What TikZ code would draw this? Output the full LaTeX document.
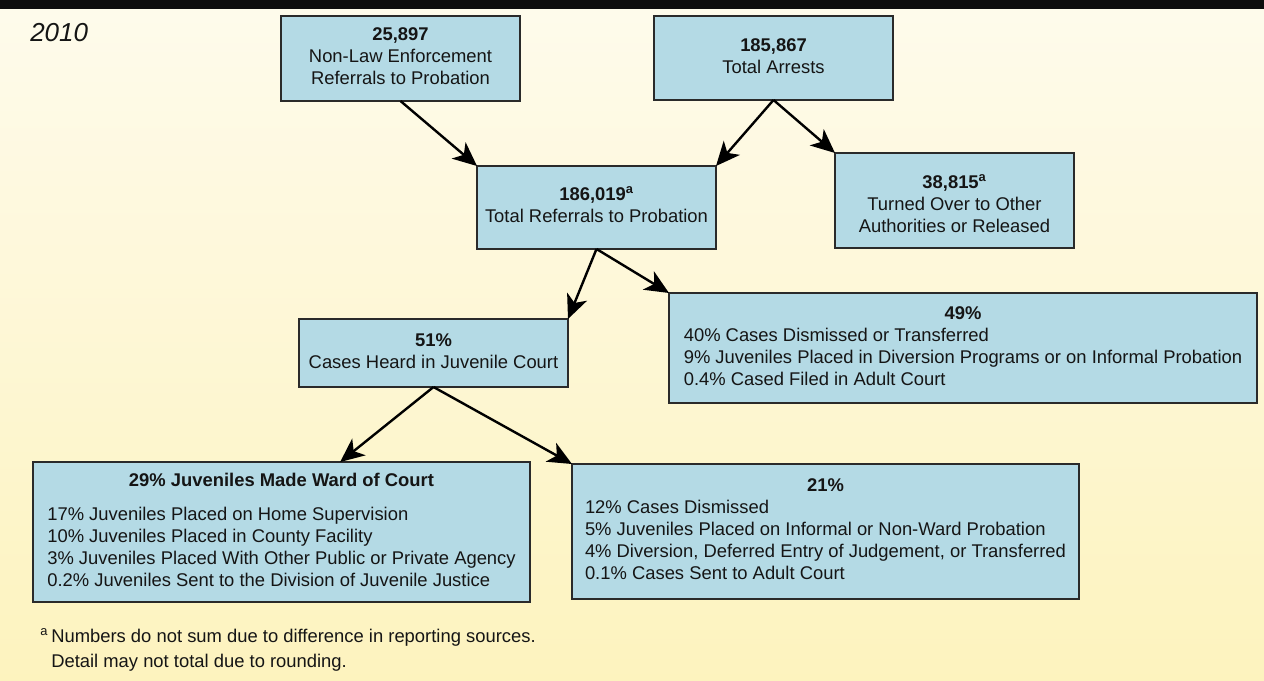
\documentclass[tikz,border=0pt]{standalone}
\usepackage{fontspec}
\setmainfont{Liberation Sans}
\usetikzlibrary{arrows.meta,calc}
\definecolor{bgtop}{HTML}{FEFBEC}
\definecolor{bgbot}{HTML}{FDF3BE}
\definecolor{boxfill}{HTML}{B4DAE5}
\definecolor{boxline}{HTML}{2A2A2A}
\definecolor{inktext}{HTML}{151515}
\newcommand\mainsz{\fontsize{13.8}{16.5}\selectfont}
\begin{document}
\begin{tikzpicture}[x=0.75pt,y=-0.75pt,
  bx/.style={draw=boxline, line width=1.2pt, fill=boxfill, inner sep=0pt, outer sep=0pt, font=\mainsz, text=inktext},
  arr/.style={line width=1.8pt, draw=black, -{Stealth[length=18pt,width=16pt,inset=5pt]}}]
\useasboundingbox (0,0) rectangle (1264,681);
\shade[top color=bgtop, bottom color=bgbot] (0,0) rectangle (1264,681);
\fill[black!95] (0,0) rectangle (1264,9);

\node[anchor=west, font=\fontsize{19.5}{22}\selectfont\itshape, text=inktext, inner sep=0pt] (yr) at (30,32.5) {2010};

\node[bx, minimum width=179.25pt, minimum height=63.75pt] (A) at (400.5,58.5)
 {\begin{tabular}{@{}c@{}}\textbf{25,897}\\Non-Law Enforcement\\Referrals to Probation\end{tabular}};
\node[bx, minimum width=179.25pt, minimum height=63pt] (B) at (773.5,58)
 {\begin{tabular}{@{}c@{}}\textbf{185,867}\\Total Arrests\end{tabular}};
\node[bx, minimum width=179.25pt, minimum height=62.25pt] (C) at (596.5,207.5)
 {\begin{tabular}{@{}c@{}}\textbf{186,019\textsuperscript{a}}\\Total Referrals to Probation\end{tabular}};
\node[bx, minimum width=179.25pt, minimum height=71.25pt] (D) at (954.5,200.5)
 {\raisebox{-4pt}[\height][\depth]{\begin{tabular}{@{}c@{}}\textbf{38,815\textsuperscript{a}}\\Turned Over to Other\\Authorities or Released\end{tabular}}};
\node[bx, minimum width=441pt, minimum height=82.5pt] (E) at (963,348)
 {\begin{tabular}{@{}l@{}}\multicolumn{1}{@{}c@{}}{\textbf{49\%}}\\
 40\% Cases Dismissed or Transferred\\
 9\% Juveniles Placed in Diversion Programs or on Informal Probation\\
 0.4\% Cased Filed in Adult Court\end{tabular}};
\node[bx, minimum width=201.75pt, minimum height=51pt] (F) at (433.5,353)
 {\begin{tabular}{@{}c@{}}\textbf{51\%}\\Cases Heard in Juvenile Court\end{tabular}};
\node[bx, minimum width=372.75pt, minimum height=105pt] (G) at (281.5,532)
 {\begin{tabular}{@{}l@{}}\multicolumn{1}{@{}c@{}}{\textbf{29\% Juveniles Made Ward of Court}}\\[9.5pt]
 17\% Juveniles Placed on Home Supervision\\
 10\% Juveniles Placed in County Facility\\
 3\% Juveniles Placed With Other Public or Private Agency\\
 0.2\% Juveniles Sent to the Division of Juvenile Justice\end{tabular}};
\node[bx, minimum width=380.25pt, minimum height=101.25pt] (H) at (825.5,531.5)
 {\begin{tabular}{@{}l@{}}\multicolumn{1}{@{}c@{}}{\textbf{21\%}}\\
 12\% Cases Dismissed\\
 5\% Juveniles Placed on Informal or Non-Ward Probation\\
 4\% Diversion, Deferred Entry of Judgement, or Transferred\\
 0.1\% Cases Sent to Adult Court\end{tabular}};

\node[anchor=west, inner sep=0pt, text=inktext, font=\fontsize{13.8}{18.75}\selectfont] (fn) at (51,649.5)
 {\begin{tabular}{@{}l@{}}\llap{\textsuperscript{a}\,}Numbers do not sum due to difference in reporting sources.\\
 Detail may not total due to rounding.\end{tabular}};

\draw[arr] (A.south) -- (C.north west);
\draw[arr] (B.south) -- (C.north east);
\draw[arr] (B.south) -- (D.north west);
\draw[arr] (C.south) -- (F.north east);
\draw[arr] (C.south) -- (E.north west);
\draw[arr] (F.south) -- ($(G.north west)!0.618!(G.north east)$);
\draw[arr] (F.south) -- (H.north west);
\end{tikzpicture}
\end{document}
